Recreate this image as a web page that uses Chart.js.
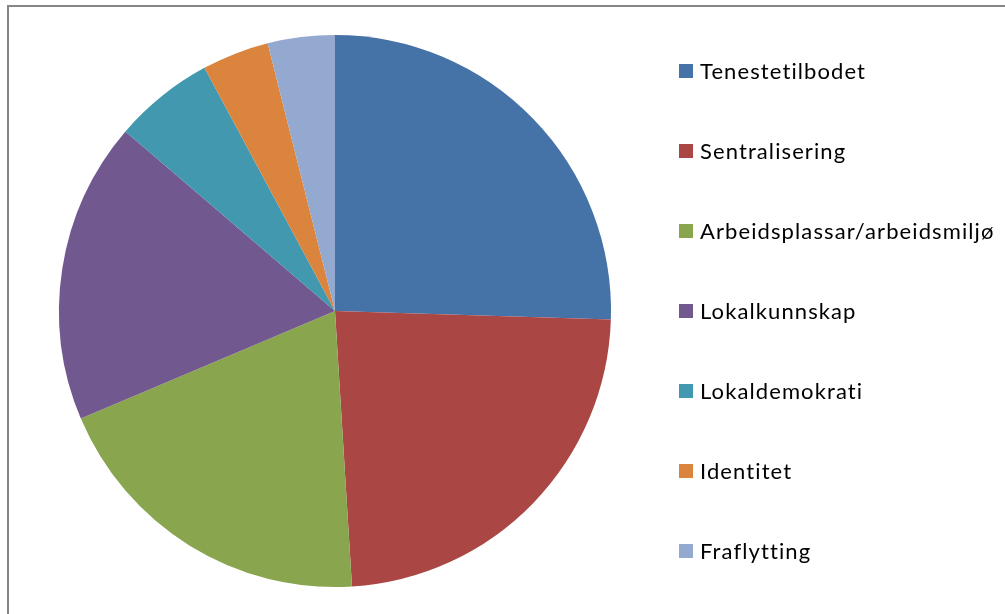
<!DOCTYPE html>
<html>
<head>
<meta charset="utf-8">
<script src="https://cdn.jsdelivr.net/npm/chart.js@4"></script>
<style>
  html, body { margin: 0; padding: 0; background: #fff; }
  #wrap { width: 1005px; height: 614px; position: relative; }
</style>
</head>
<body>
<div id="wrap"><canvas id="pieChart" width="1005" height="614"></canvas></div>
<script>
const categories = ['Tenestetilbodet', 'Sentralisering', 'Arbeidsplassar/arbeidsmiljø', 'Lokalkunnskap', 'Lokaldemokrati', 'Identitet', 'Fraflytting'];
const counts = [13, 12, 10, 9, 3, 2, 2];
const colors = ['#4572A7', '#AA4643', '#89A54E', '#71588F', '#4198AF', '#DB843D', '#93A9CF'];

// frame + legend drawn on the canvas
const framePlugin = {
  id: 'frame',
  beforeDraw: (chart) => {
    const ctx = chart.ctx;
    ctx.save();
    ctx.strokeStyle = '#868686';
    ctx.lineWidth = 2;
    ctx.beginPath();
    ctx.moveTo(8, chart.height + 2);
    ctx.lineTo(8, 6);
    ctx.lineTo(chart.width + 2, 6);
    ctx.stroke();
    ctx.restore();
  }
};

const sideLegend = {
  id: 'sideLegend',
  afterDraw: (chart) => {
    const ctx = chart.ctx;
    const labels = chart.data.labels;
    const bg = chart.data.datasets[0].backgroundColor;
    ctx.save();
    ctx.font = '22px Lato';
    ctx.letterSpacing = '1.1px';
    ctx.textBaseline = 'middle';
    labels.forEach((label, i) => {
      const y = 71 + i * 80;
      ctx.fillStyle = bg[i];
      ctx.fillRect(679, y - 7, 14, 14);
      ctx.fillStyle = '#000';
      ctx.fillText(label, 700, y + 1);
    });
    ctx.restore();
  }
};

const ctx = document.getElementById('pieChart').getContext('2d');
new Chart(ctx, {
  type: 'pie',
  data: {
    labels: categories,
    datasets: [{
      data: counts,
      backgroundColor: colors,
      borderWidth: 0
    }]
  },
  options: {
    responsive: false,
    animation: false,
    layout: { padding: { left: 59, right: 394, top: 35, bottom: 27 } },
    plugins: {
      legend: { display: false },
      tooltip: { enabled: false }
    }
  },
  plugins: [framePlugin, sideLegend]
});
</script>
</body>
</html>
